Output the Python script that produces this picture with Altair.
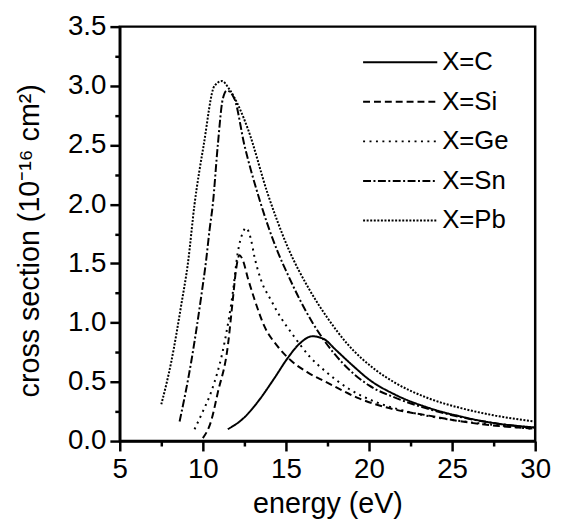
import altair as alt
import pandas as pd

series_names = ["X=C", "X=Si", "X=Ge", "X=Sn", "X=Pb"]

c_energy = [11.5, 12.5, 13.3, 14.3, 15.1, 15.8, 16.6, 17.3, 18.0, 19.0, 20.0, 21.6, 23.6, 25.6, 27.6, 30.0]
c_sigma = [0.10, 0.20, 0.33, 0.53, 0.70, 0.82, 0.885, 0.86, 0.77, 0.64, 0.52, 0.39, 0.28, 0.205, 0.15, 0.115]

si_energy = [10.0, 10.5, 10.9, 11.5, 11.8, 12.0, 12.2, 12.4, 12.7, 13.1, 13.7, 14.5, 15.3, 16.3, 17.4, 19.4, 21.6, 23.6, 25.6, 27.6, 30.0]
si_sigma = [0.025, 0.17, 0.41, 0.80, 1.19, 1.45, 1.57, 1.53, 1.38, 1.20, 0.97, 0.80, 0.68, 0.58, 0.50, 0.36, 0.265, 0.215, 0.165, 0.13, 0.105]

ge_energy = [9.5, 10.0, 10.5, 11.3, 11.8, 12.1, 12.4, 12.6, 12.9, 13.1, 13.5, 14.1, 14.7, 15.3, 16.45, 17.45, 18.8, 20.4, 22.0, 24.0, 26.0, 28.0, 30.0]
ge_sigma = [0.10, 0.25, 0.415, 0.83, 1.25, 1.59, 1.76, 1.80, 1.70, 1.56, 1.36, 1.19, 1.04, 0.92, 0.71, 0.58, 0.44, 0.33, 0.26, 0.20, 0.16, 0.13, 0.10]

sn_energy = [8.6, 9.3, 9.9, 10.2, 10.4, 10.6, 10.9, 11.2, 11.45, 11.9, 12.5, 13.3, 14.5, 15.1, 15.85, 16.6, 17.3, 18.4, 20.0, 21.6, 23.6, 25.6, 27.6, 30.0]
sn_sigma = [0.165, 0.67, 1.22, 1.53, 1.78, 2.0, 2.5, 2.89, 2.96, 2.89, 2.50, 2.09, 1.60, 1.41, 1.19, 1.00, 0.85, 0.66, 0.47, 0.365, 0.27, 0.20, 0.15, 0.11]

pb_energy = [7.5, 8.1, 8.7, 9.1, 9.5, 10.05, 10.7, 11.15, 11.6, 12.7, 13.9, 15.1, 16.45, 17.5, 18.7, 20.4, 21.6, 23.6, 25.6, 27.6, 30.0]
pb_sigma = [0.31, 0.67, 1.15, 1.5, 2.0, 2.5, 3.0, 3.04, 2.97, 2.64, 2.09, 1.64, 1.27, 1.04, 0.82, 0.60, 0.49, 0.36, 0.276, 0.215, 0.165]

x_ticks = [5, 7.5, 10, 12.5, 15, 17.5, 20, 22.5, 25, 27.5, 30]
y_ticks = [0, 0.25, 0.5, 0.75, 1.0, 1.25, 1.5, 1.75, 2.0, 2.25, 2.5, 2.75, 3.0, 3.25, 3.5]

dash_styles = [[1, 0], [7, 4], [2, 4.5], [8, 2.5, 2, 2.5], [2, 1.6]]

rows = []
for name, xs, ys in zip(
    series_names,
    [c_energy, si_energy, ge_energy, sn_energy, pb_energy],
    [c_sigma, si_sigma, ge_sigma, sn_sigma, pb_sigma],
):
    for i, (xv, yv) in enumerate(zip(xs, ys)):
        rows.append({"series": name, "energy": xv, "sigma": yv, "order": i})
df = pd.DataFrame(rows)

FONT = "Liberation Sans"

chart = (
    alt.Chart(df)
    .mark_line(color="black", strokeWidth=2, interpolate="monotone")
    .encode(
        x=alt.X(
            "energy:Q",
            scale=alt.Scale(domain=[5, 30], nice=False),
            axis=alt.Axis(
                title="energy (eV)",
                values=x_ticks,
                format="d",
                labelExpr="datum.value % 5 === 0 ? datum.label : ''",
                tickSize={"condition": {"test": "datum.value % 5 === 0", "value": 10}, "value": 5},
                labelFlush=False,
                labelOverlap=False,
                labelPadding=5,
                titlePadding=6,
            ),
        ),
        y=alt.Y(
            "sigma:Q",
            scale=alt.Scale(domain=[0, 3.5], nice=False),
            axis=alt.Axis(
                title="cross section (10⁻¹⁶ cm²)",
                values=y_ticks,
                format=".1f",
                labelExpr="datum.value % 0.5 === 0 ? datum.label : ''",
                tickSize={"condition": {"test": "datum.value % 0.5 === 0", "value": 10}, "value": 5},
                labelOverlap=False,
                labelPadding=4,
                titleX=-76,
                titleY=216,
            ),
        ),
        strokeDash=alt.StrokeDash(
            "series:N",
            scale=alt.Scale(domain=series_names, range=dash_styles),
            sort=series_names,
            legend=alt.Legend(
                title=None,
                orient="none",
                legendX=245,
                legendY=16,
                symbolType="stroke",
                symbolSize=5625,
                symbolStrokeWidth=2,
                symbolStrokeColor="black",
                clipHeight=40,
                rowPadding=0,
                labelOffset=4,
                labelFont=FONT,
                labelFontSize=26,
                labelColor="black",
                padding=0,
            ),
        ),
        order="order:Q",
    )
    .properties(
        width=420,
        height=419,
        autosize=alt.AutoSizeParams(type="none"),
        padding={"left": 113, "top": 16, "right": 18, "bottom": 80},
        background="white",
    )
    .configure_view(stroke="black", strokeWidth=2.5)
    .configure_axis(
        grid=False,
        domainColor="black",
        domainWidth=2.5,
        tickColor="black",
        tickWidth=2.5,
        labelFont=FONT,
        labelFontSize=28,
        labelColor="black",
        titleFont=FONT,
        titleFontSize=29,
        titleFontWeight="normal",
        titleColor="black",
    )
)

chart.save("out.html", embed_options={"renderer": "svg", "actions": False})
